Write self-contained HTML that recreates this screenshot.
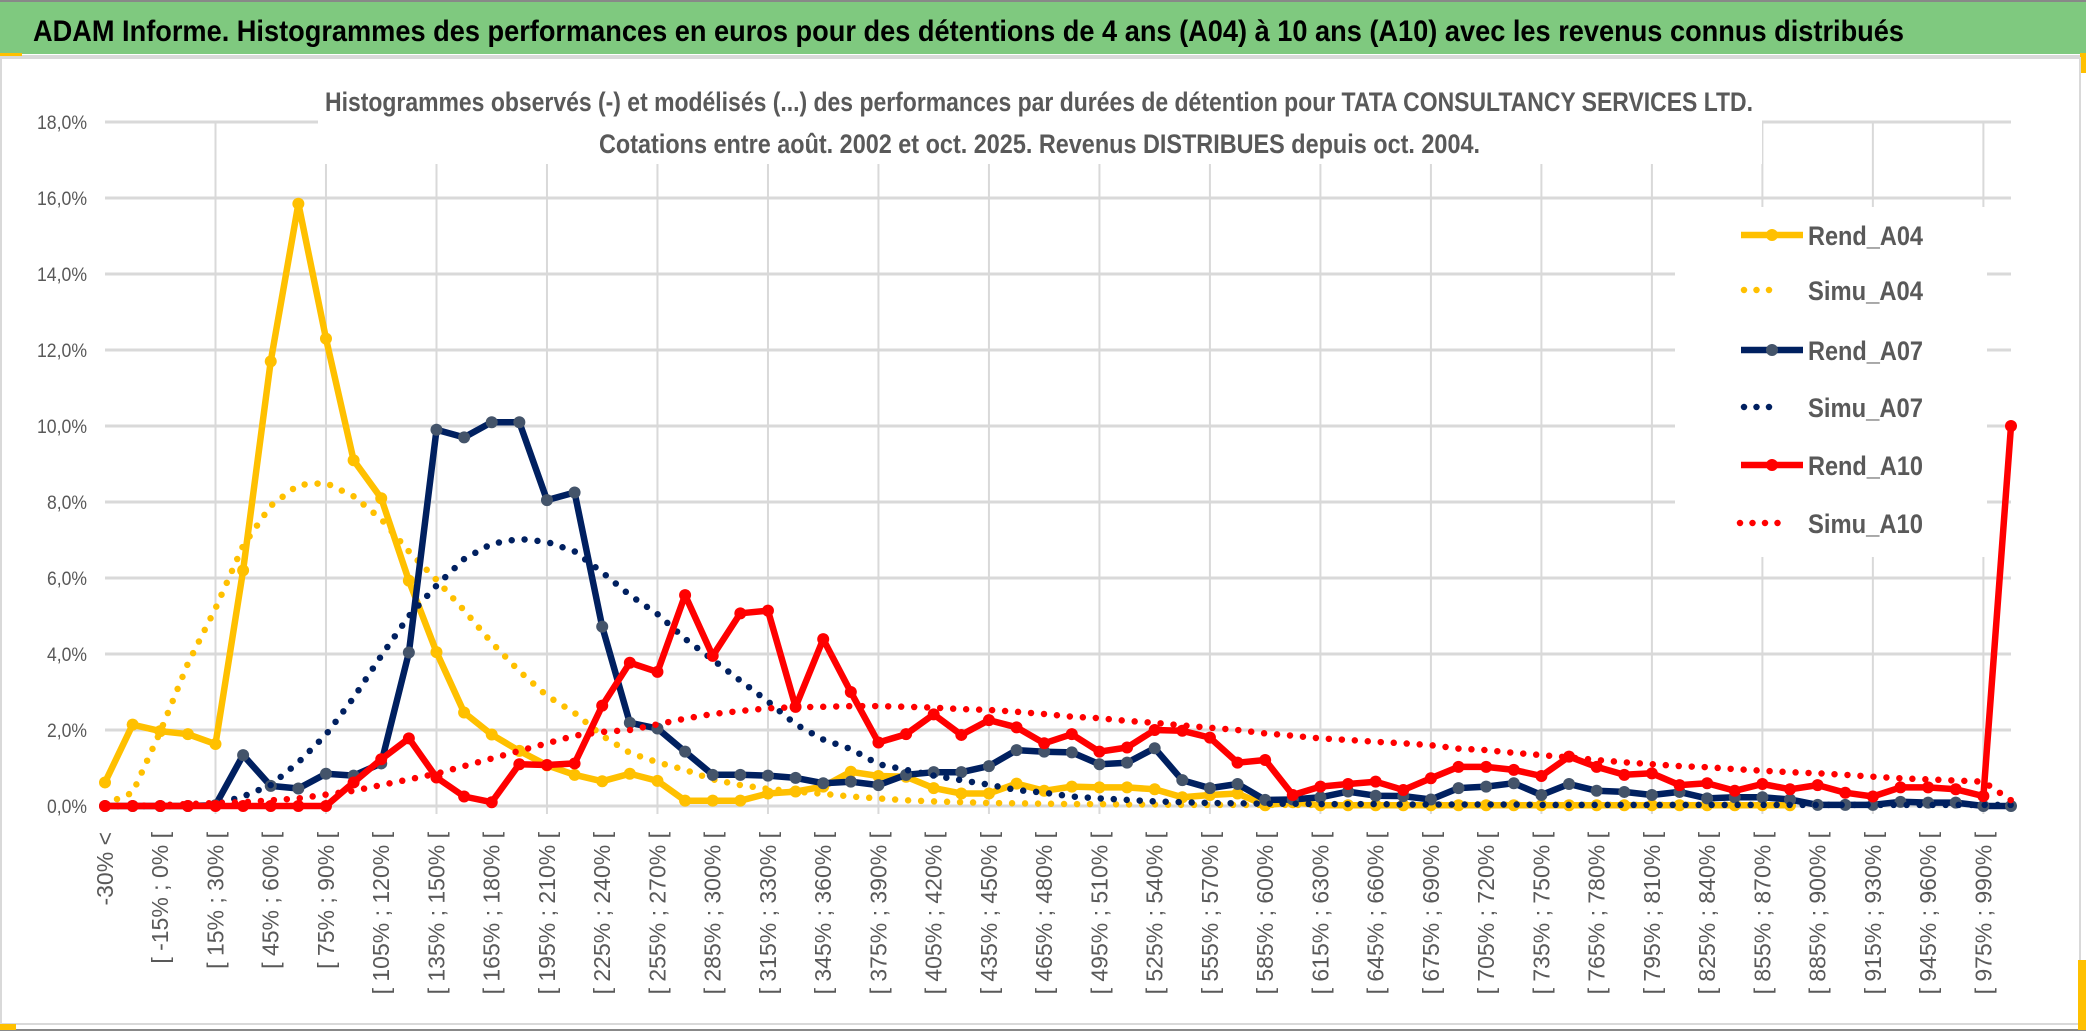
<!DOCTYPE html>
<html><head><meta charset="utf-8"><style>
html,body{margin:0;padding:0;background:#fff;}
svg{display:block;}
text{font-family:"Liberation Sans",sans-serif;}
</style></head><body>
<svg id="chart" width="2086" height="1033" viewBox="0 0 2086 1033" xmlns="http://www.w3.org/2000/svg">
<rect x="0" y="0" width="2086" height="1033" fill="#fff"/>
<rect x="0" y="2" width="2086" height="52" fill="#7FC97F"/>
<line x1="0" y1="1" x2="2086" y2="1" stroke="#888" stroke-width="2"/>
<line x1="0" y1="56.5" x2="2086" y2="56.5" stroke="#d9d9d9" stroke-width="3"/>
<rect x="0" y="53" width="22" height="3" fill="#FFC000"/>
<rect x="2080" y="53" width="6" height="20" fill="#FFC000"/>
<text x="33" y="41" font-size="30" font-weight="bold" fill="#000" textLength="1871" lengthAdjust="spacingAndGlyphs">ADAM Informe. Histogrammes des performances en euros pour des détentions de 4 ans (A04) à 10 ans (A10) avec les revenus connus distribués</text>
<rect x="1" y="58" width="2079" height="966" fill="none" stroke="#d9d9d9" stroke-width="2"/>
<line x1="0" y1="1030" x2="2086" y2="1030" stroke="#888" stroke-width="2"/>
<rect x="0" y="1024" width="16" height="6" fill="#FFC000"/>
<rect x="2078" y="960" width="8" height="70" fill="#FFC000"/>
<g id="grid"></g>
<g id="yaxis"></g>
<g id="xaxis"></g>
<rect x="318" y="60" width="1444" height="104" fill="#fff"/>
<text x="325" y="111" font-size="27" font-weight="bold" fill="#595959" textLength="1428" lengthAdjust="spacingAndGlyphs">Histogrammes observés (-) et modélisés (...) des performances par durées de détention pour TATA CONSULTANCY SERVICES LTD.</text>
<text x="599" y="153" font-size="27" font-weight="bold" fill="#595959" textLength="881" lengthAdjust="spacingAndGlyphs">Cotations entre août. 2002 et oct. 2025. Revenus DISTRIBUES depuis oct. 2004.</text>
<g id="series"></g>
<rect x="1675" y="207" width="312" height="350" fill="#fff"/>
<g id="legend"></g>
</svg>
<script>
const categories = (function(){ const c=["-30% <"]; for(let k=1;k<70;k++){ c.push("[ "+(-45+15*k)+"% ; "+(-30+15*k)+"% ["); } return c; })();
const yTicks = [0,2,4,6,8,10,12,14,16,18];
const yTickLabels = ["0,0%","2,0%","4,0%","6,0%","8,0%","10,0%","12,0%","14,0%","16,0%","18,0%"];
const seriesNames = ["Rend_A04","Simu_A04","Rend_A07","Simu_A07","Rend_A10","Simu_A10"];
const rendA04 = [0.62,2.14,1.97,1.89,1.63,6.2,11.7,15.85,12.3,9.1,8.1,5.93,4.05,2.46,1.88,1.45,1.07,0.82,0.65,0.85,0.66,0.14,0.14,0.14,0.33,0.38,0.51,0.9,0.79,0.77,0.47,0.33,0.33,0.59,0.4,0.51,0.49,0.49,0.44,0.23,0.29,0.33,0.02,0.1,0.02,0.02,0.02,0.02,0.02,0.02,0.02,0.02,0.02,0.02,0.02,0.02,0.02,0.02,0.02,0.02,0.02,0.02,null,null,null,null,null,null,null,null];
const simuA04 = [0.05,0.35,1.95,3.75,5.2,6.85,7.9,8.45,8.5,8.15,7.55,6.7,5.95,5.15,4.3,3.55,2.9,2.45,1.85,1.4,1.15,0.95,0.7,0.55,0.45,0.38,0.32,0.25,0.2,0.15,0.12,0.1,0.08,0.07,0.06,0.05,0.05,0.04,0.04,0.03,0.03,0.03,0.03,0.03,0.03,0.03,0.03,0.03,0.03,0.03,0.03,0.03,0.03,0.03,0.03,0.03,0.03,0.03,0.03,0.03,0.03,0.03,null,null,null,null,null,null,null,null];
const rendA07 = [0,0,0,0,0.02,1.34,0.53,0.46,0.85,0.8,1.12,4.04,9.9,9.7,10.1,10.1,8.05,8.25,4.72,2.19,2.04,1.43,0.82,0.82,0.8,0.74,0.6,0.64,0.55,0.82,0.89,0.89,1.05,1.47,1.43,1.41,1.1,1.14,1.52,0.68,0.47,0.58,0.16,0.17,0.23,0.38,0.27,0.26,0.17,0.47,0.51,0.6,0.29,0.58,0.4,0.37,0.29,0.37,0.2,0.23,0.23,0.17,0.03,0.03,0.03,0.11,0.09,0.09,0,0];
const simuA07 = [0,0,0,0,0.05,0.25,0.55,1.15,1.88,2.85,3.95,5.0,5.8,6.5,6.9,7.03,6.95,6.7,6.15,5.55,5.05,4.4,3.85,3.3,2.75,2.15,1.75,1.5,1.1,0.95,0.8,0.68,0.56,0.42,0.35,0.25,0.2,0.16,0.12,0.1,0.08,0.07,0.06,0.06,0.05,0.05,0.05,0.04,0.04,0.04,0.04,0.04,0.03,0.03,0.03,0.03,0.03,0.03,0.03,0.03,0.03,0.03,0.03,0.03,0.03,0.03,0.03,0.03,0.03,0.03];
const rendA10 = [0,0,0,0,0,0,0,0,0,0.62,1.23,1.78,0.75,0.25,0.1,1.1,1.08,1.12,2.64,3.77,3.53,5.55,3.95,5.07,5.14,2.61,4.39,3.0,1.67,1.89,2.41,1.87,2.26,2.07,1.65,1.89,1.43,1.54,2.0,1.98,1.8,1.14,1.21,0.29,0.51,0.58,0.64,0.42,0.73,1.03,1.03,0.95,0.79,1.3,1.03,0.82,0.86,0.55,0.6,0.4,0.58,0.44,0.55,0.35,0.25,0.49,0.49,0.44,0.26,10.0];
const simuA10 = [0,0,0.02,0.05,0.08,0.1,0.15,0.2,0.3,0.4,0.55,0.7,0.85,1.05,1.25,1.45,1.65,1.85,1.95,2.0,2.15,2.3,2.42,2.5,2.57,2.6,2.61,2.63,2.63,2.61,2.59,2.55,2.53,2.48,2.42,2.35,2.31,2.24,2.19,2.12,2.06,2.0,1.91,1.85,1.78,1.74,1.69,1.65,1.6,1.51,1.47,1.4,1.34,1.28,1.21,1.15,1.1,1.05,1.02,0.97,0.93,0.89,0.86,0.82,0.77,0.73,0.7,0.67,0.64,0.15];

const NS="http://www.w3.org/2000/svg";
const plotL=105, plotR=2011, y0=806, pxPerUnit=38;
const n=categories.length;
function xPos(i){ return plotL + i*(plotR-plotL)/(n-1); }
function yPos(v){ return y0 - v*pxPerUnit; }
function mk(tag, attrs, parent){ const e=document.createElementNS(NS,tag); for(const k in attrs) e.setAttribute(k,attrs[k]); parent.appendChild(e); return e; }

const grid=document.getElementById('grid');
yTicks.forEach(function(t){
  const l=mk('line',{x1:plotL,x2:plotR,y1:yPos(t),y2:yPos(t),stroke:'#d9d9d9','stroke-width':3},grid);
  
  
});
for(let i=4;i<n;i+=4){
  const l=mk('line',{x1:xPos(i),x2:xPos(i),y1:yPos(18),y2:y0+8,stroke:'#d9d9d9','stroke-width':2},grid);
  
  
}
const ya=document.getElementById('yaxis');
yTicks.forEach(function(t,k){
  const tx=mk('text',{x:87,y:yPos(t)+7,'font-size':19,fill:'#595959','text-anchor':'end',textLength:yTickLabels[k].length>4?50:40,lengthAdjust:'spacingAndGlyphs'},ya);
  tx.textContent=yTickLabels[k];
  
  
});
const xa=document.getElementById('xaxis');
for(let i=0;i<n-1;i+=2){
  const x=xPos(i)+8, y=832;
  const tx=mk('text',{x:x,y:y,'font-size':23,fill:'#595959','text-anchor':'end',transform:'rotate(-90 '+x+' '+y+')'},xa);
  tx.textContent=categories[i];
  
  
}

const ser=document.getElementById('series');
function drawLine(vals, color, markerColor, name){
  const g=mk('g',{},ser);
  
  
  let seg=[];
  const segs=[];
  vals.forEach(function(v,i){ if(v===null){ if(seg.length) segs.push(seg); seg=[]; } else seg.push(xPos(i).toFixed(1)+','+yPos(v).toFixed(1)); });
  if(seg.length) segs.push(seg);
  segs.forEach(function(s){
    const p=mk('polyline',{points:s.join(' '),fill:'none',stroke:color,'stroke-width':6.5,'stroke-linejoin':'round','stroke-linecap':'round'},g);
    
    
  });
  vals.forEach(function(v,i){
    if(v===null) return;
    const c=mk('circle',{cx:xPos(i),cy:yPos(v),r:6,fill:markerColor},g);
    
    
  });
}
function drawDots(vals, color, name){
  let seg=[]; const segs=[];
  vals.forEach(function(v,i){ if(v===null){ if(seg.length) segs.push(seg); seg=[]; } else seg.push(xPos(i).toFixed(1)+','+yPos(v).toFixed(1)); });
  if(seg.length) segs.push(seg);
  segs.forEach(function(s){
    const p=mk('polyline',{points:s.join(' '),fill:'none',stroke:color,'stroke-width':6.5,'stroke-linecap':'round','stroke-dasharray':'0 13'},ser);
    
    
  });
}
drawLine(rendA04,'#FFC000','#FFC000','rend-a04');
drawDots(simuA04,'#FFC000','simu-a04');
drawLine(rendA07,'#002060','#44546A','rend-a07');
drawDots(simuA07,'#002060','simu-a07');
drawLine(rendA10,'#FF0000','#FF0000','rend-a10');
drawDots(simuA10,'#FF0000','simu-a10');

const lg=document.getElementById('legend');
const legendY=[235,290,350,407,465,523];
const legendCol=['#FFC000','#FFC000','#002060','#002060','#FF0000','#FF0000'];
const legendMk=['#FFC000',null,'#44546A',null,'#FF0000',null];
seriesNames.forEach(function(nm,k){
  const y=legendY[k];
  const g=mk('g',{},lg);
  
  
  if(legendMk[k]){
    mk('line',{x1:1741,x2:1803,y1:y,y2:y,stroke:legendCol[k],'stroke-width':6.5},g);
    mk('circle',{cx:1772,cy:y,r:6,fill:legendMk[k]},g);
  } else {
    const dots = (k===5)?5:4;
    const x1 = (k===5)?1740:1744;
    mk('line',{x1:x1,x2:x1+(dots-1)*12.5,y1:y,y2:y,stroke:legendCol[k],'stroke-width':6.5,'stroke-linecap':'round','stroke-dasharray':'0 12.5'},g);
  }
  const t=mk('text',{x:1808,y:y+10,'font-size':27,'font-weight':'bold',fill:'#595959',textLength:115,lengthAdjust:'spacingAndGlyphs'},g);
  t.textContent=nm;
});
</script>
</body></html>
